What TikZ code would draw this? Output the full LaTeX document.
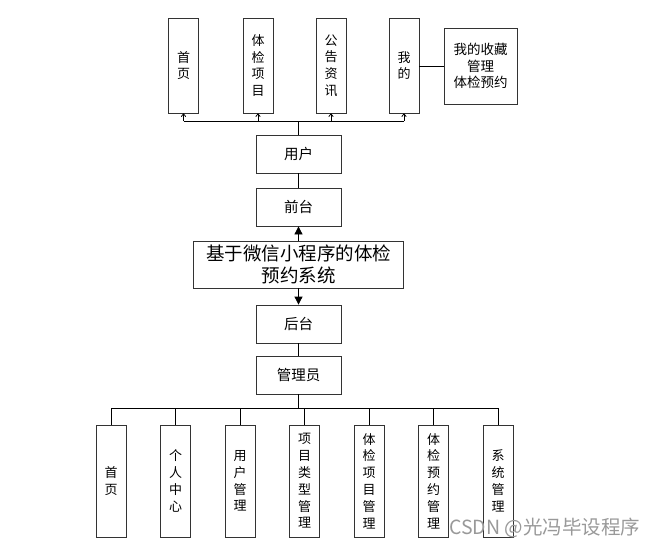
\documentclass[tikz,border=0pt]{standalone}
\usepackage{fontspec}
\setmainfont{Noto Sans CJK SC}
\usetikzlibrary{arrows.meta}
\begin{document}
\begin{tikzpicture}[x=1pt,y=-1pt,
  vbox/.style={draw=black!80,line width=0.8pt,fill=white,minimum width=30pt,inner sep=0pt,align=center,font=\fontsize{13}{16.8}\selectfont},
  hbox/.style={draw=black!80,line width=0.8pt,fill=white,minimum width=85pt,minimum height=38pt,inner sep=0pt,align=center,font=\fontsize{14.5}{17}\selectfont},
  conn/.style={line width=0.8pt,black},
  openarr/.style={conn,-{To[length=3.5pt,width=5pt]}},
  fillarr/.style={conn,-{Triangle[length=8pt,width=8pt]}}]
\useasboundingbox (0,0) rectangle (657,549);
% top boxes
\node[vbox,minimum height=95pt] (t1) at (183.5,65.5) {首\\页};
\node[vbox,minimum height=95pt] (t2) at (258,65.5) {体\\检\\项\\目};
\node[vbox,minimum height=95pt] (t3) at (331,65.5) {公\\告\\资\\讯};
\node[vbox,minimum height=95pt] (t4) at (404,65.5) {我\\的};
\node[draw=black!80,line width=0.8pt,minimum width=73pt,minimum height=76pt,inner sep=0pt,align=center,font=\fontsize{13.5}{16.8}\selectfont] (fav) at (480.5,66) {我的收藏\\管理\\体检预约};
\draw[conn] (t4.east |- fav.west) -- (fav.west);
% middle
\node[hbox] (user) at (298.5,154) {用户};
\node[hbox] (front) at (298.5,207) {前台};
\node[hbox,minimum width=210pt,minimum height=47pt,font=\fontsize{18.5}{22}\selectfont] (sys) at (298.5,264.5) {基于微信小程序的体检\\预约系统};
\node[hbox] (back) at (298.5,324) {后台};
\node[hbox] (admin) at (298.5,375) {管理员};
% top bus
\coordinate (tbus) at (298.5,121);
\draw[conn] (user.north) -- (tbus);
\draw[conn] (t1.south |- tbus) -- (t4.south |- tbus);
\foreach \n in {t1,t2,t3,t4} \draw[openarr] (\n.south |- tbus) -- (\n.south);
\draw[conn] (user.south) -- (front.north);
\draw[fillarr] (sys.north) -- (front.south);
\draw[fillarr] (sys.south) -- (back.north);
\draw[conn] (back.south) -- (admin.north);
% bottom boxes
\node[vbox,minimum height=112pt] (b1) at (111,481) {首\\页};
\node[vbox,minimum height=112pt] (b2) at (175.5,481) {个\\人\\中\\心};
\node[vbox,minimum height=112pt] (b3) at (240,481) {用\\户\\管\\理};
\node[vbox,minimum height=112pt] (b4) at (304.5,481) {项\\目\\类\\型\\管\\理};
\node[vbox,minimum height=112pt] (b5) at (369,481) {体\\检\\项\\目\\管\\理};
\node[vbox,minimum height=112pt] (b6) at (433.5,481) {体\\检\\预\\约\\管\\理};
\node[vbox,minimum height=112pt] (b7) at (498,481) {系\\统\\管\\理};
\coordinate (bbus) at (298.5,408);
\draw[conn] (admin.south) -- (bbus);
\draw[conn] (b1.north |- bbus) -- (b7.north |- bbus);
\foreach \n in {b1,b2,b3,b4,b5,b6,b7} \draw[conn] (\n.north |- bbus) -- (\n.north);
% watermark
\node[text=black!40,font=\fontsize{19.5}{21}\selectfont,anchor=west,inner sep=0pt] (wm) at (449,528) {CSDN @光冯毕设程序};
\end{tikzpicture}
\end{document}
